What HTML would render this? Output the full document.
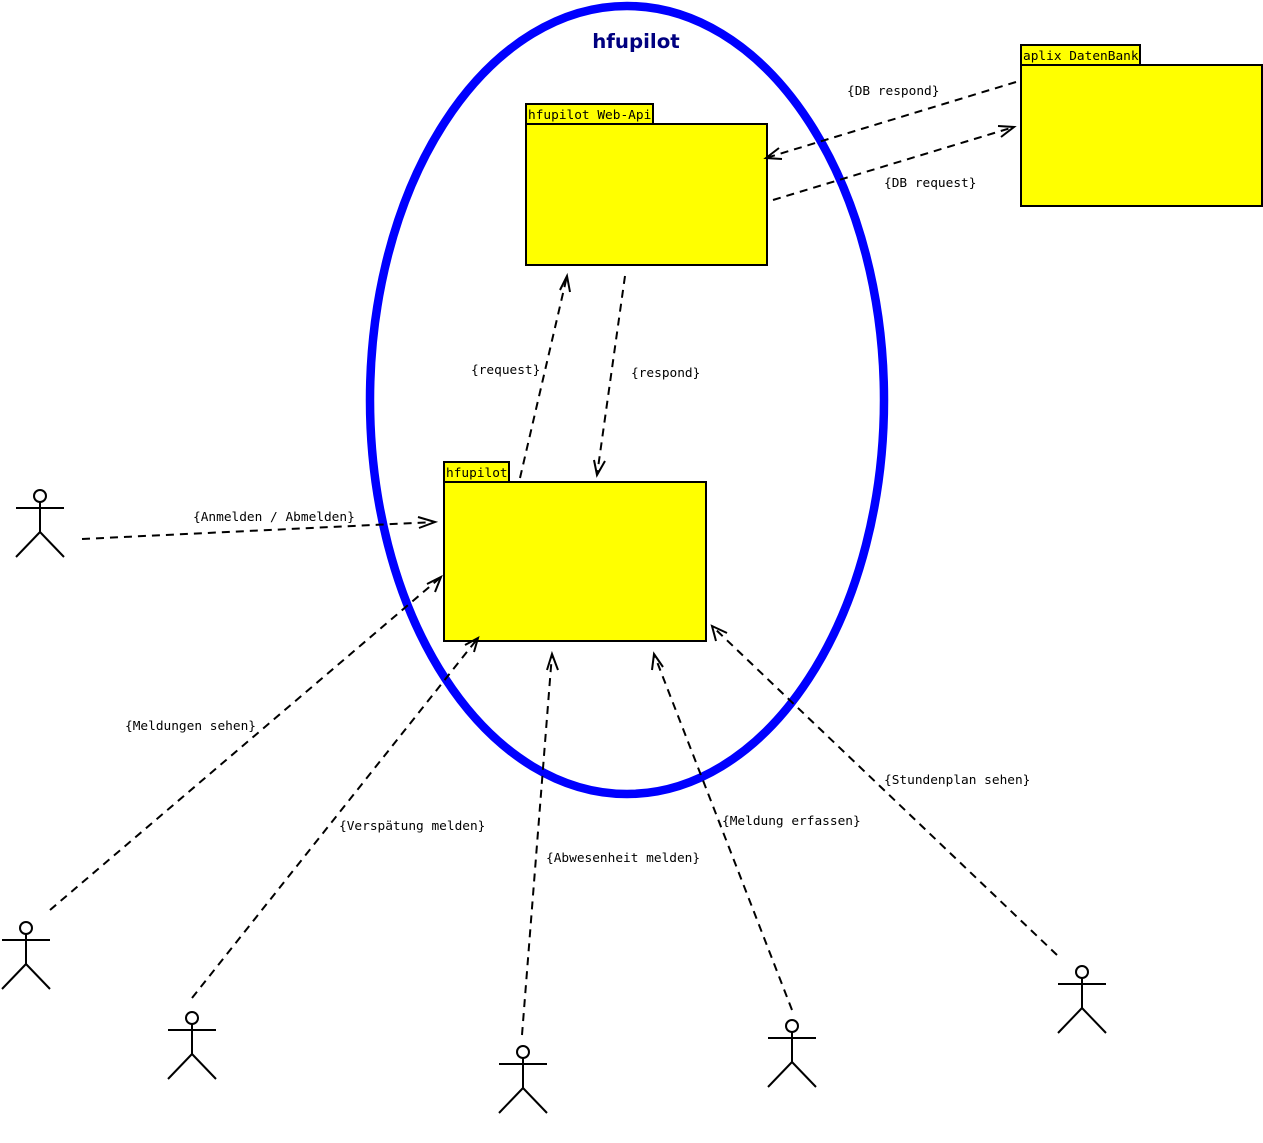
<!DOCTYPE html>
<html><head><meta charset="utf-8"><style>
html,body{margin:0;padding:0;background:#fff;}
svg{display:block;}
text{font-family:"DejaVu Sans Mono","Liberation Mono",monospace;font-size:12.8px;fill:#000;}
</style></head><body>
<svg width="1263" height="1143" viewBox="0 0 1263 1143" xmlns="http://www.w3.org/2000/svg">
<defs>
<g id="actor" fill="none" stroke="#000" stroke-width="2">
<circle cx="0" cy="6" r="6" fill="#fff"/>
<line x1="0" y1="12" x2="0" y2="42"/>
<line x1="-24" y1="18" x2="24" y2="18"/>
<line x1="0" y1="42" x2="-24" y2="67"/>
<line x1="0" y1="42" x2="24" y2="67"/>
</g>
</defs>
<ellipse cx="627" cy="400" rx="257" ry="394" fill="none" stroke="#0000ff" stroke-width="8.5"/>
<text x="636" y="48" text-anchor="middle" style="font-family:'DejaVu Sans','Liberation Sans',sans-serif;font-size:19.8px;font-weight:bold;fill:#000080">hfupilot</text>

<g fill="#ffff00" stroke="#000" stroke-width="2">
<rect x="526" y="104" width="127" height="20"/>
<rect x="526" y="124" width="241" height="141"/>
<rect x="444" y="462" width="65" height="20"/>
<rect x="444" y="482" width="262" height="159"/>
<rect x="1021" y="45" width="119" height="20"/>
<rect x="1021" y="65" width="241" height="141"/>
</g>
<text x="528" y="119">hfupilot Web-Api</text>
<text x="446" y="477">hfupilot</text>
<text x="1023" y="60">aplix DatenBank</text>

<g stroke="#000" stroke-width="2" stroke-dasharray="8,6" fill="none">
<line x1="82" y1="539" x2="435" y2="522"/>
<line x1="50" y1="910" x2="441" y2="577"/>
<line x1="192" y1="998" x2="478" y2="638"/>
<line x1="522" y1="1035" x2="552" y2="654"/>
<line x1="792" y1="1010" x2="654" y2="654"/>
<line x1="1057" y1="955" x2="712" y2="626"/>
<line x1="520" y1="478" x2="567" y2="276"/>
<line x1="625" y1="276" x2="597" y2="475"/>
<line x1="1016" y1="82" x2="766" y2="158"/>
<line x1="773" y1="200" x2="1014" y2="127"/>
</g>
<g stroke="#000" stroke-width="2" fill="none">
<polyline points="418,517 435,522 419,528"/>
<polyline points="427,584 441,577 435,592"/>
<polyline points="465,645 478,638 474,652"/>
<polyline points="547,670 552,654 558,670"/>
<polyline points="652,670 654,654 663,667"/>
<polyline points="716,641 712,626 727,633"/>
<polyline points="560,290 567,276 570,292"/>
<polyline points="594,460 597,475 605,461"/>
<polyline points="779,148 766,158 782,159"/>
<polyline points="998,126 1014,127 1001,137"/>
</g>
<g fill="#fff">
<rect x="191" y="508" width="164" height="14"/>
</g>
<text x="193" y="521">{Anmelden / Abmelden}</text>
<text x="125" y="730">{Meldungen sehen}</text>
<text x="339" y="830">{Verspätung melden}</text>
<text x="546" y="862">{Abwesenheit melden}</text>
<text x="722" y="825">{Meldung erfassen}</text>
<text x="884" y="784">{Stundenplan sehen}</text>
<text x="471" y="374">{request}</text>
<text x="631" y="377">{respond}</text>
<text x="847" y="95">{DB respond}</text>
<text x="884" y="187">{DB request}</text>

<use href="#actor" x="40" y="490"/>
<use href="#actor" x="26" y="922"/>
<use href="#actor" x="192" y="1012"/>
<use href="#actor" x="523" y="1046"/>
<use href="#actor" x="792" y="1020"/>
<use href="#actor" x="1082" y="966"/>
</svg>
</body></html>
